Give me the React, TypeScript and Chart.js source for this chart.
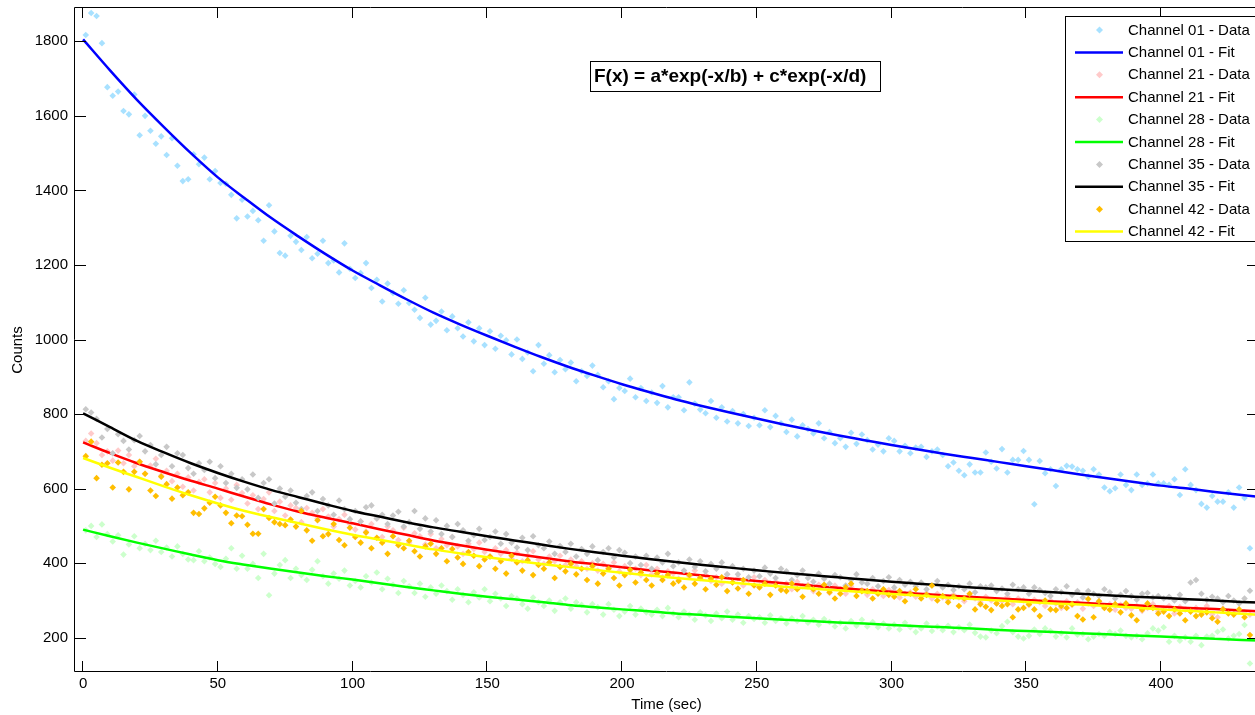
import React, { useEffect, useRef } from "react";
import { Chart, registerables } from "chart.js";

Chart.register(...registerables);

// ---------- data ----------
const TIME = [
  1, 3, 5, 7, 9, 11, 13, 15, 17, 19,
  21, 23, 25, 27, 29, 31, 33, 35, 37, 39,
  41, 43, 45, 47, 49, 51, 53, 55, 57, 59,
  61, 63, 65, 67, 69, 71, 73, 75, 77, 79,
  81, 83, 85, 87, 89, 91, 93, 95, 97, 99,
  101, 103, 105, 107, 109, 111, 113, 115, 117, 119,
  121, 123, 125, 127, 129, 131, 133, 135, 137, 139,
  141, 143, 145, 147, 149, 151, 153, 155, 157, 159,
  161, 163, 165, 167, 169, 171, 173, 175, 177, 179,
  181, 183, 185, 187, 189, 191, 193, 195, 197, 199,
  201, 203, 205, 207, 209, 211, 213, 215, 217, 219,
  221, 223, 225, 227, 229, 231, 233, 235, 237, 239,
  241, 243, 245, 247, 249, 251, 253, 255, 257, 259,
  261, 263, 265, 267, 269, 271, 273, 275, 277, 279,
  281, 283, 285, 287, 289, 291, 293, 295, 297, 299,
  301, 303, 305, 307, 309, 311, 313, 315, 317, 319,
  321, 323, 325, 327, 329, 331, 333, 335, 337, 339,
  341, 343, 345, 347, 349, 351, 353, 355, 357, 359,
  361, 363, 365, 367, 369, 371, 373, 375, 377, 379,
  381, 383, 385, 387, 389, 391, 393, 395, 397, 399,
  401, 403, 405, 407, 409, 411, 413, 415, 417, 419,
  421, 423, 425, 427, 429, 431, 433,
];

const FIT_TIME = [
  0, 10, 20, 30, 40, 50, 60, 70, 80, 90, 100, 110, 120, 130, 140, 150, 160, 170, 180, 190,
  200, 210, 220, 230, 240, 250, 260, 270, 280, 290, 300, 310, 320, 330, 340, 350, 360, 370,
  380, 390, 400, 410, 420, 430, 440,
];

const CH01_DATA = [
  1817, 1876, 1868, 1795, 1677, 1654, 1665, 1613, 1604, 1657,
  1548, 1600, 1560, 1525, 1545, 1495, 1540, 1466, 1425, 1430,
  1497, 1470, 1488, 1430, 1452, 1420, 1418, 1388, 1325, 1375,
  1330, 1345, 1320, 1265, 1360, 1290, 1232, 1225, 1278, 1262,
  1240, 1275, 1218, 1230, 1265, 1205, 1212, 1180, 1258, 1190,
  1165, 1178, 1205, 1138, 1160, 1102, 1150, 1125, 1096, 1132,
  1098, 1080, 1058, 1112, 1040, 1050, 1075, 1025, 1062, 1030,
  1008, 1046, 995, 1030, 985, 1022, 975, 1010, 998, 960,
  1000, 948, 965, 915, 985, 935, 958, 912, 945, 920,
  938, 888, 915, 902, 930, 905, 872, 888, 840, 870,
  862, 895, 845, 870, 835, 858, 830, 875, 818, 845,
  845, 810, 885, 828, 812, 802, 835, 790, 818, 780,
  808, 775, 800, 768, 790, 770, 810, 765, 795, 775,
  752, 785, 740, 770, 760, 748, 775, 735, 752, 722,
  735, 712, 750, 720, 745, 730, 705, 718, 700, 735,
  728, 700, 715, 695, 710, 712, 685, 700, 705, 690,
  660, 670, 648, 636, 665, 643, 643, 697, 672, 654,
  706, 643, 677, 677, 701, 677, 558, 674, 641, 652,
  607, 652, 661, 659, 652, 648, 632, 652, 638, 603,
  593, 601, 638, 610, 596, 638, 610, 614, 638, 614,
  614, 610, 625, 583, 652, 610, 596, 559, 549, 580,
  565, 565, 590, 549, 603, 575, 440,
];
const CH01_FIT = [
  1805, 1722, 1643, 1570, 1500, 1435, 1379, 1325, 1276, 1229, 1185, 1146, 1108, 1072, 1040,
  1010, 981, 953, 927, 903, 880, 859, 839, 821, 804, 788, 772, 757, 743, 730, 717, 705, 693,
  682, 671, 660, 649, 638, 628, 618, 608, 600, 591, 583, 575,
];

const CH21_DATA = [
  728, 748, 722, 690, 700, 675, 702, 668, 690, 660,
  672, 640, 662, 680, 635, 648, 620, 640, 605, 630,
  595, 618, 625, 590, 615, 575, 600, 570, 610, 588,
  560, 582, 545, 572, 590, 540, 565, 528, 555, 548,
  510, 548, 535, 520, 545, 525, 498, 518, 530, 505,
  490, 512, 485, 505, 520, 470, 498, 488, 462, 495,
  455, 480, 472, 450, 478, 440, 465, 448, 470, 445,
  425, 452, 438, 455, 430, 418, 440, 425, 435, 412,
  428, 405, 420, 432, 410, 398, 418, 405, 420, 395,
  410, 392, 405, 385, 400, 380, 398, 388, 402, 378,
  392, 375, 385, 368, 395, 370, 385, 362, 378, 372,
  358, 375, 365, 380, 360, 368, 352, 362, 345, 370,
  348, 360, 340, 355, 362, 338, 355, 345, 350, 332,
  345, 330, 350, 338, 342, 325, 342, 335, 320, 340,
  330, 318, 338, 325, 328, 315, 330, 322, 312, 328,
  325, 308, 318, 322, 310, 312, 320, 305, 318, 308,
  302, 315, 308, 298, 312, 305, 295, 310, 300, 292,
  298, 310, 290, 305, 300, 288, 302, 295, 285, 300,
  292, 280, 298, 288, 295, 278, 292, 285, 298, 282,
  290, 275, 288, 280, 278, 285, 272, 280, 290, 270,
  278, 285, 265, 282, 275, 272, 280, 268, 285, 262,
  255, 278, 270, 265, 272, 268, 262,
];
const CH21_FIT = [
  724, 695, 668, 644, 621, 600, 578, 557, 538, 522, 507, 491, 476, 461, 448, 436, 425, 415,
  405, 397, 389, 381, 374, 367, 359, 352, 346, 340, 334, 328, 323, 318, 313, 309, 305, 301,
  297, 294, 290, 287, 284, 280, 277, 273, 270,
];

const CH28_DATA = [
  488, 500, 470, 504, 478, 458, 475, 423, 450, 472,
  440, 452, 435, 460, 430, 442, 418, 445, 425, 410,
  408, 432, 405, 415, 398, 390, 412, 440, 385, 420,
  385, 398, 360, 425, 314, 372, 395, 408, 360, 385,
  368, 355, 382, 405, 365, 345, 372, 358, 380, 340,
  352, 335, 365, 348, 375, 330, 358, 342, 320, 352,
  338, 320, 345, 310, 335, 318, 340, 325, 302, 330,
  315, 295, 322, 308, 330, 298, 318, 305, 285, 312,
  305, 290, 278, 308, 295, 285, 300, 272, 295, 305,
  278, 295, 288, 268, 290, 282, 262, 290, 275, 258,
  270, 285, 262, 278, 268, 262, 275, 258, 280, 265,
  255, 270, 262, 248, 268, 260, 245, 265, 252, 270,
  248, 262, 240, 258, 250, 255, 240, 260, 245, 252,
  238, 252, 245, 258, 240, 248, 235, 250, 242, 230,
  240, 225, 245, 232, 248, 230, 242, 228, 238, 225,
  235, 222, 240, 228, 215, 225, 238, 218, 230, 220,
  232, 215, 228, 220, 235, 213, 203, 201, 219, 212,
  231, 243, 215, 203, 198, 205, 222, 210, 225, 218,
  203, 212, 201, 225, 208, 210, 196, 203, 210, 205,
  215, 210, 219, 205, 201, 205, 196, 212, 225, 219,
  228, 189, 205, 192, 201, 189, 205, 180, 203, 205,
  216, 222, 198, 205, 210, 234, 131,
];
const CH28_FIT = [
  490, 472, 455, 439, 423, 408, 396, 385, 375, 365, 356, 346, 336, 327, 318, 310, 303, 296,
  288, 282, 276, 271, 265, 261, 256, 252, 248, 245, 241, 238, 234, 231, 228, 225, 221, 218,
  215, 212, 209, 206, 203, 200, 197, 194, 191,
];

const CH35_DATA = [
  813, 804, 787, 737, 760, 695, 746, 728, 705, 730,
  741, 700, 717, 665, 690, 712, 660, 695, 690, 655,
  640, 668, 650, 672, 628, 660, 615, 640, 602, 625,
  598, 638, 575, 615, 625, 560, 600, 578, 595, 562,
  545, 580, 590, 540, 572, 555, 530, 568, 545, 518,
  540, 512, 550, 555, 520, 530, 505, 528, 538, 498,
  510, 540, 492, 520, 485, 515, 478, 500, 470, 505,
  488, 460, 475, 492, 462, 470, 485, 452, 478, 455,
  442, 468, 435, 472, 448, 440, 458, 425, 446, 430,
  452, 418, 438, 425, 445, 408, 430, 440, 415, 435,
  428, 400, 418, 395, 420, 385, 415, 402, 425, 392,
  402, 380, 410, 390, 405, 378, 398, 385, 402, 370,
  392, 370, 385, 362, 380, 365, 388, 372, 360, 385,
  378, 355, 368, 380, 360, 350, 372, 358, 345, 368,
  362, 340, 355, 370, 348, 345, 360, 338, 352, 362,
  335, 355, 342, 350, 338, 348, 330, 340, 352, 335,
  342, 328, 338, 330, 345, 322, 338, 335, 340, 325,
  332, 318, 342, 330, 335, 318, 335, 328, 320, 312,
  330, 322, 338, 315, 325, 308, 325, 318, 312, 330,
  322, 305, 315, 325, 312, 302, 318, 320, 308, 312,
  305, 310, 300, 315, 298, 348, 355, 318, 302, 310,
  305, 295, 312, 300, 292, 305, 326,
];
const CH35_FIT = [
  802, 765, 728, 697, 668, 642, 618, 596, 577, 558, 540, 525, 510, 496, 484, 472, 461, 450,
  439, 429, 420, 411, 403, 395, 388, 381, 374, 368, 362, 356, 350, 345, 340, 335, 330, 326,
  322, 318, 314, 310, 307, 303, 300, 296, 293,
];

const CH42_DATA = [
  687, 726, 628, 664, 668, 603, 670, 645, 598, 645,
  672, 640, 595, 580, 632, 612, 573, 603, 582, 590,
  535, 532, 547, 562, 578, 555, 535, 507, 528, 526,
  503, 479, 479, 545, 521, 510, 505, 502, 517, 498,
  540, 488, 460, 515, 472, 478, 505, 462, 448, 495,
  470, 455, 482, 440, 468, 455, 425, 472, 448, 440,
  460, 432, 418, 445, 452, 425, 440, 405, 438, 415,
  398, 430, 420, 392, 410, 418, 385, 405, 372, 420,
  402, 380, 408, 368, 395, 385, 402, 360, 390, 378,
  398, 370, 385, 355, 392, 345, 372, 385, 360, 340,
  368, 382, 348, 375, 355, 340, 372, 355, 368, 345,
  352, 335, 368, 345, 360, 330, 358, 342, 362, 325,
  348, 332, 355, 318, 340, 335, 345, 315, 340, 328,
  325, 345, 330, 310, 338, 330, 318, 342, 322, 305,
  318, 335, 345, 312, 325, 325, 305, 318, 330, 315,
  310, 325, 298, 318, 330, 305, 315, 340, 300, 312,
  295, 310, 285, 305, 318, 276, 290, 283, 274, 292,
  285, 290, 255, 276, 280, 290, 276, 258, 300, 276,
  274, 285, 280, 290, 258, 249, 304, 255, 298, 280,
  275, 290, 268, 292, 260, 247, 275, 292, 280, 265,
  270, 258, 276, 265, 247, 270, 258, 262, 268, 252,
  243, 276, 265, 262, 276, 255, 207,
];
const CH42_FIT = [
  682, 656, 631, 606, 582, 560, 540, 523, 507, 491, 476, 463, 450, 437, 426, 416, 407, 398,
  390, 382, 374, 367, 360, 354, 348, 342, 337, 332, 327, 322, 317, 313, 308, 304, 300, 296,
  292, 289, 285, 281, 276, 272, 268, 264, 260,
];

const X_TICKS = [0, 50, 100, 150, 200, 250, 300, 350, 400];
const Y_TICKS = [200, 400, 600, 800, 1000, 1200, 1400, 1600, 1800];
const X_TITLE = "Time (sec)";
const Y_TITLE = "Counts";
const FORMULA = "F(x) = a*exp(-x/b) + c*exp(-x/d)";

const CHANNELS = ["Channel 01", "Channel 21", "Channel 28", "Channel 35", "Channel 42"];
const DATA_SERIES = [CH01_DATA, CH21_DATA, CH28_DATA, CH35_DATA, CH42_DATA];
const FIT_SERIES = [CH01_FIT, CH21_FIT, CH28_FIT, CH35_FIT, CH42_FIT];
const DATA_COLORS = ["#a8e1ff", "#ffcaca", "#ccffcc", "#c8c8c8", "#ffbe00"];
const FIT_COLORS = ["#0000ff", "#ff0000", "#00ff00", "#000000", "#ffff00"];

const FONT = "'Liberation Sans', Arial, sans-serif";
const TICK_LEN = 11;

const framePlugin = {
  id: "matlabFrame",
  afterDraw(chart: any) {
    const { ctx, chartArea: a, scales } = chart;
    const xs = scales.x;
    const ys = scales.y;
    ctx.save();
    // axes box
    ctx.strokeStyle = "#000";
    ctx.lineWidth = 1;
    ctx.beginPath();
    ctx.moveTo(a.left - 0.5, a.top + 0.5);
    ctx.lineTo(a.right + 0.5, a.top + 0.5);
    ctx.lineTo(a.right + 0.5, a.bottom - 0.5);
    ctx.lineTo(a.left - 0.5, a.bottom - 0.5);
    ctx.closePath();
    ctx.stroke();
    // inward ticks
    ctx.beginPath();
    X_TICKS.forEach((v) => {
      const px = Math.round(xs.getPixelForValue(v)) - 0.5;
      ctx.moveTo(px, a.bottom);
      ctx.lineTo(px, a.bottom - TICK_LEN);
      ctx.moveTo(px, a.top);
      ctx.lineTo(px, a.top + TICK_LEN);
    });
    Y_TICKS.forEach((v) => {
      const py = Math.round(ys.getPixelForValue(v)) + 0.5;
      ctx.moveTo(a.left, py);
      ctx.lineTo(a.left + TICK_LEN, py);
      ctx.moveTo(a.right, py);
      ctx.lineTo(a.right - TICK_LEN, py);
    });
    ctx.stroke();

    // y-axis title
    ctx.fillStyle = "#000";
    ctx.font = `15px ${FONT}`;
    ctx.textAlign = "center";
    ctx.textBaseline = "middle";
    ctx.save();
    ctx.translate(18, 350);
    ctx.rotate(-Math.PI / 2);
    ctx.fillText(Y_TITLE, 0, 0);
    ctx.restore();

    // formula box
    ctx.fillStyle = "#fff";
    ctx.fillRect(591, 62, 290, 30);
    ctx.strokeStyle = "#000";
    ctx.strokeRect(590.5, 61.5, 290, 30);
    ctx.fillStyle = "#000";
    ctx.font = `bold 19px ${FONT}`;
    ctx.textAlign = "left";
    ctx.textBaseline = "middle";
    ctx.fillText(FORMULA, 594, 77);

    // legend
    const lx = 1065.5;
    const ly = 16.5;
    ctx.fillStyle = "#fff";
    ctx.fillRect(lx, ly, 300, 225);
    ctx.strokeStyle = "#000";
    ctx.lineWidth = 1;
    ctx.strokeRect(lx, ly, 300, 225);
    ctx.font = `15px ${FONT}`;
    ctx.textAlign = "left";
    ctx.textBaseline = "middle";
    chart.data.datasets.forEach((ds: any, i: number) => {
      const cy = 30 + i * 22.4;
      if (ds.showLine) {
        ctx.strokeStyle = ds.borderColor;
        ctx.lineWidth = 2.5;
        ctx.beginPath();
        ctx.moveTo(1075, cy);
        ctx.lineTo(1123, cy);
        ctx.stroke();
      } else {
        ctx.fillStyle = ds.backgroundColor;
        ctx.beginPath();
        ctx.moveTo(1099.5, cy - 3.5);
        ctx.lineTo(1103, cy);
        ctx.lineTo(1099.5, cy + 3.5);
        ctx.lineTo(1096, cy);
        ctx.closePath();
        ctx.fill();
      }
      ctx.fillStyle = "#000";
      ctx.fillText(ds.label, 1128, cy + 0.5);
    });
    ctx.restore();
  },
};

export default function App() {
  const ref = useRef<HTMLCanvasElement | null>(null);

  useEffect(() => {
    if (!ref.current) return;
    Chart.defaults.font.family = FONT;
    const datasets: any[] = [];
    CHANNELS.forEach((ch, k) => {
      datasets.push({
        label: `${ch} - Data`,
        data: TIME.map((t, i) => ({ x: t, y: DATA_SERIES[k][i] })),
        showLine: false,
        pointStyle: "rectRot",
        pointRadius: 3.3,
        pointBorderWidth: 0,
        backgroundColor: DATA_COLORS[k],
        borderColor: DATA_COLORS[k],
        pointBackgroundColor: DATA_COLORS[k],
      });
      datasets.push({
        label: `${ch} - Fit`,
        data: FIT_TIME.map((t, i) => ({ x: t, y: FIT_SERIES[k][i] })),
        showLine: true,
        borderColor: FIT_COLORS[k],
        backgroundColor: FIT_COLORS[k],
        borderWidth: 2.5,
        pointRadius: 0,
        tension: 0.4,
        cubicInterpolationMode: "monotone",
      });
    });
    datasets.forEach((d, i) => (d.order = 20 - i));

    const chart = new Chart(ref.current, {
      type: "line",
      data: { datasets },
      options: {
        responsive: false,
        animation: false,
        devicePixelRatio: 1,
        events: [],
        layout: { padding: { top: 7, left: 0, right: 0, bottom: 0 } },
        plugins: { legend: { display: false }, tooltip: { enabled: false } },
        scales: {
          x: {
            type: "linear",
            min: -3,
            max: 436,
            grid: { display: false, drawTicks: false },
            border: { display: false },
            afterBuildTicks: (s: any) => {
              s.ticks = X_TICKS.map((v) => ({ value: v }));
            },
            afterFit: (s: any) => {
              s.height = 43;
              s.paddingLeft = 0;
              s.paddingRight = 0;
            },
            ticks: {
              padding: 3,
              color: "#000",
              font: { size: 15, family: FONT },
              maxRotation: 0,
              autoSkip: false,
              callback: (v: any) => String(v),
            },
            title: {
              display: true,
              text: X_TITLE,
              color: "#000",
              font: { size: 15, family: FONT },
              padding: { top: 0, bottom: 1 },
            },
          },
          y: {
            type: "linear",
            min: 108,
            max: 1892,
            grid: { display: false, drawTicks: false },
            border: { display: false },
            afterBuildTicks: (s: any) => {
              s.ticks = Y_TICKS.map((v) => ({ value: v }));
            },
            afterFit: (s: any) => {
              s.width = 75;
              s.paddingTop = 0;
              s.paddingBottom = 0;
            },
            ticks: {
              padding: 7,
              color: "#000",
              font: { size: 15, family: FONT },
              autoSkip: false,
              callback: (v: any) => String(v),
            },
          },
        },
      },
      plugins: [framePlugin],
    });
    return () => chart.destroy();
  }, []);

  return (
    <div style={{ position: "fixed", left: 0, top: 0, width: 1255, height: 715, overflow: "hidden", background: "#fff" }}>
      <canvas ref={ref} width={1262} height={715} style={{ display: "block", width: 1262, height: 715 }} />
    </div>
  );
}
